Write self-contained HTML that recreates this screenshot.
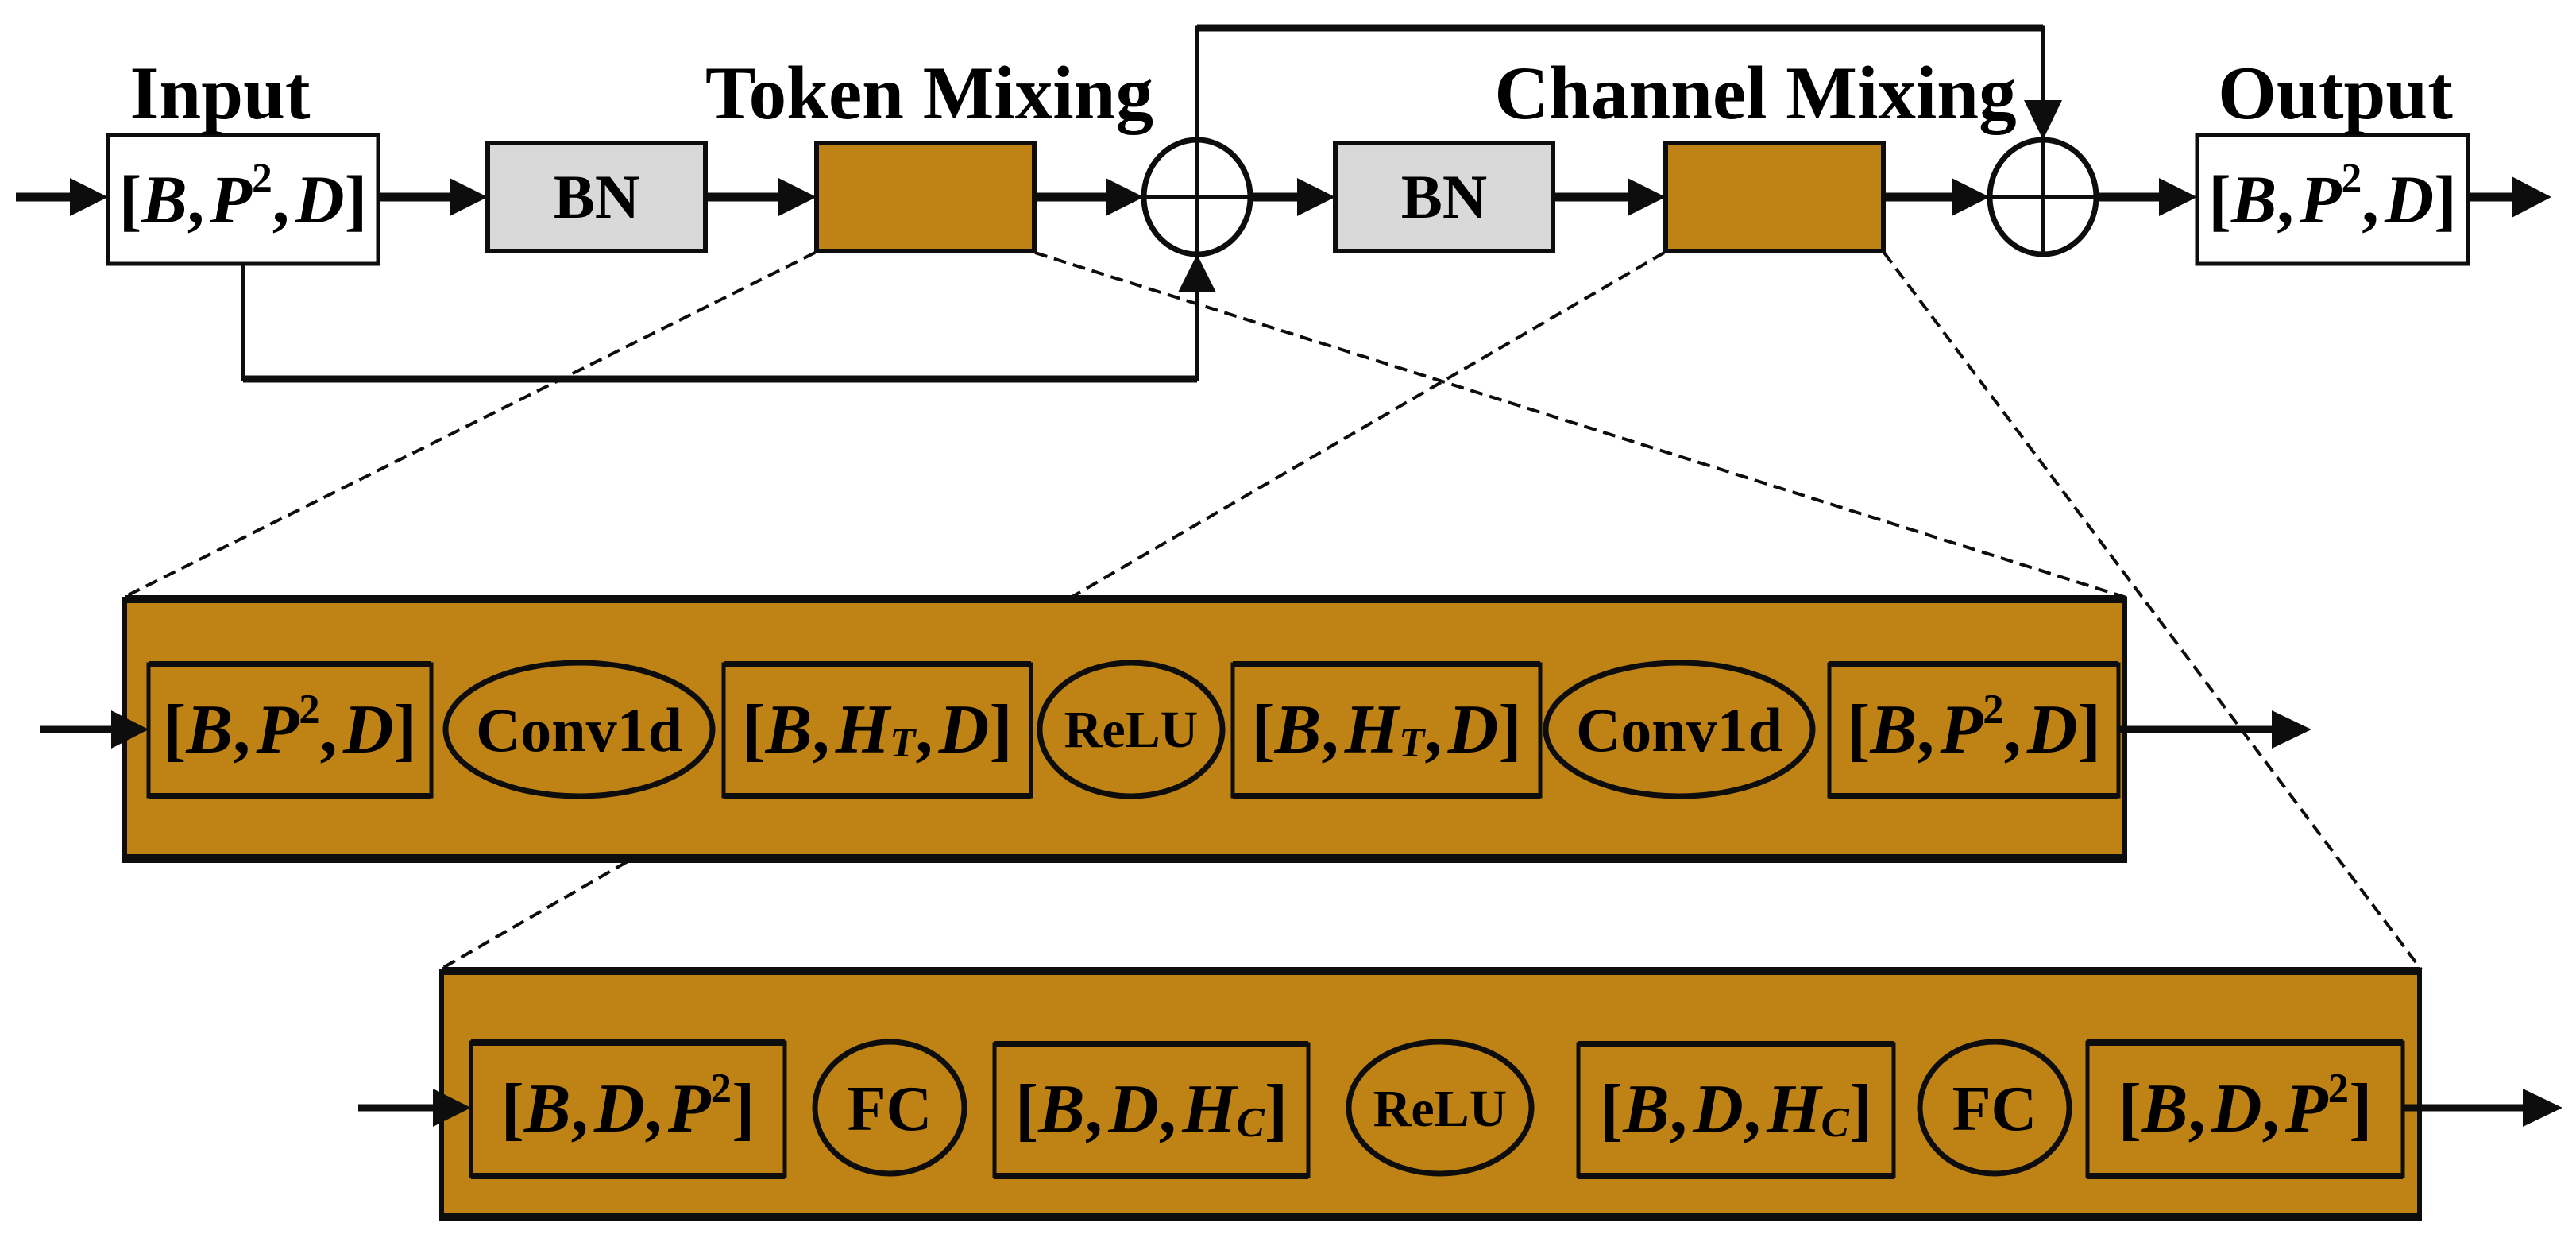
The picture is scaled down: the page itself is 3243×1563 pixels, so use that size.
<!DOCTYPE html>
<html><head><meta charset="utf-8"><style>
html,body{margin:0;padding:0;background:#fff;}
#c{position:relative;width:3243px;height:1563px;overflow:hidden;font-family:"Liberation Serif",serif;font-weight:bold;color:#000;}
svg{position:absolute;left:0;top:0;}
.t{position:absolute;display:flex;align-items:center;justify-content:center;white-space:nowrap;line-height:1;}
.m i{font-style:italic;}
.m sup{font-size:0.6em;position:relative;top:-0.5em;vertical-align:baseline;line-height:0;}
.m sub{font-size:0.6em;font-style:italic;position:relative;top:0.3em;vertical-align:baseline;line-height:0;}
.lbl{font-size:95px;}
</style></head><body><div id="c">
<svg width="3243" height="1563" viewBox="0 0 3243 1563">
<g fill="none" stroke="#0d0d0d">
<g stroke-width="4" stroke-dasharray="16 9">
<line x1="1026" y1="318" x2="155" y2="752"/>
<line x1="1303" y1="318" x2="2677" y2="752"/>
<line x1="2095" y1="318" x2="1348" y2="752"/>
<line x1="2372" y1="318" x2="3048" y2="1220"/>
<line x1="811" y1="1072" x2="554" y2="1220"/>
</g>
<rect x="136" y="170" width="340" height="162" fill="#fff" stroke-width="5"/>
<rect x="2766" y="170" width="341" height="162" fill="#fff" stroke-width="5"/>
<rect x="614" y="180" width="274" height="136" fill="#d9d9d9" stroke-width="6"/>
<rect x="1681" y="180" width="274" height="136" fill="#d9d9d9" stroke-width="6"/>
<rect x="1028" y="180" width="274" height="136" fill="#bf8214" stroke-width="6"/>
<rect x="2097" y="180" width="274" height="136" fill="#bf8214" stroke-width="6"/>
<ellipse cx="1507" cy="248" rx="67" ry="72" stroke-width="7"/>
<line x1="1440" y1="248" x2="1574" y2="248" stroke-width="5"/>
<line x1="1507" y1="176" x2="1507" y2="320" stroke-width="5"/>
<ellipse cx="2572" cy="248" rx="67" ry="72" stroke-width="7"/>
<line x1="2505" y1="248" x2="2639" y2="248" stroke-width="5"/>
<line x1="2572" y1="176" x2="2572" y2="320" stroke-width="5"/>
<g stroke-width="11">
<line x1="20" y1="248" x2="95" y2="248"/>
<line x1="476" y1="248" x2="570" y2="248"/>
<line x1="889" y1="248" x2="985" y2="248"/>
<line x1="1303" y1="248" x2="1395" y2="248"/>
<line x1="1574" y1="248" x2="1640" y2="248"/>
<line x1="1956" y1="248" x2="2055" y2="248"/>
<line x1="2372" y1="248" x2="2460" y2="248"/>
<line x1="2639" y1="248" x2="2720" y2="248"/>
<line x1="3108" y1="248" x2="3170" y2="248"/>
</g>
<polyline points="306,333 306,477 1507,477 1507,365" stroke-width="5"/>
<line x1="306" y1="477" x2="1507" y2="477" stroke-width="9"/>
<polyline points="1507,176 1507,35 2572,35 2572,130" stroke-width="5"/>
<line x1="1507" y1="35" x2="2572" y2="35" stroke-width="9"/>
<rect x="157" y="754" width="2518" height="329" fill="#bf8214" stroke-width="6"/>
<line x1="157" y1="754" x2="2675" y2="754" stroke-width="10"/>
<line x1="157" y1="1080" x2="2675" y2="1080" stroke-width="10"/>
<g stroke-width="5">
<rect x="187" y="836" width="356" height="166"/>
<rect x="911" y="836" width="387" height="166"/>
<rect x="1552" y="836" width="387" height="166"/>
<rect x="2303" y="836" width="364" height="166"/>
<line x1="187" y1="836" x2="543" y2="836" stroke-width="8"/><line x1="187" y1="1002" x2="543" y2="1002" stroke-width="8"/>
<line x1="911" y1="836" x2="1298" y2="836" stroke-width="8"/><line x1="911" y1="1002" x2="1298" y2="1002" stroke-width="8"/>
<line x1="1552" y1="836" x2="1939" y2="836" stroke-width="8"/><line x1="1552" y1="1002" x2="1939" y2="1002" stroke-width="8"/>
<line x1="2303" y1="836" x2="2667" y2="836" stroke-width="8"/><line x1="2303" y1="1002" x2="2667" y2="1002" stroke-width="8"/>
</g>
<g stroke-width="7">
<ellipse cx="729" cy="918" rx="168" ry="84"/>
<ellipse cx="1424" cy="918" rx="115" ry="84"/>
<ellipse cx="2114" cy="918" rx="168" ry="84"/>
</g>
<line x1="50" y1="918" x2="145" y2="918" stroke-width="9"/>
<line x1="2668" y1="918" x2="2865" y2="918" stroke-width="9"/>
<rect x="556" y="1222" width="2490" height="311" fill="#bf8214" stroke-width="6"/>
<line x1="556" y1="1222" x2="3046" y2="1222" stroke-width="10"/>
<line x1="556" y1="1531" x2="3046" y2="1531" stroke-width="8"/>
<g stroke-width="5">
<rect x="593" y="1312" width="395" height="168"/>
<rect x="1252" y="1314" width="395" height="166"/>
<rect x="1987" y="1314" width="397" height="166"/>
<rect x="2628" y="1312" width="397" height="168"/>
<line x1="593" y1="1312" x2="988" y2="1312" stroke-width="8"/><line x1="593" y1="1480" x2="988" y2="1480" stroke-width="8"/>
<line x1="1252" y1="1314" x2="1647" y2="1314" stroke-width="8"/><line x1="1252" y1="1480" x2="1647" y2="1480" stroke-width="8"/>
<line x1="1987" y1="1314" x2="2384" y2="1314" stroke-width="8"/><line x1="1987" y1="1480" x2="2384" y2="1480" stroke-width="8"/>
<line x1="2628" y1="1312" x2="3025" y2="1312" stroke-width="8"/><line x1="2628" y1="1480" x2="3025" y2="1480" stroke-width="8"/>
</g>
<g stroke-width="7">
<ellipse cx="1120" cy="1394" rx="94" ry="83"/>
<ellipse cx="1813" cy="1394" rx="115" ry="83"/>
<ellipse cx="2511" cy="1394" rx="94" ry="83"/>
</g>
<line x1="451" y1="1394" x2="550" y2="1394" stroke-width="9"/>
<line x1="3025" y1="1394" x2="3180" y2="1394" stroke-width="9"/>
</g>
<g fill="#0d0d0d">
<polygon points="88,224 136,248 88,272"/>
<polygon points="566,224 614,248 566,272"/>
<polygon points="980,224 1028,248 980,272"/>
<polygon points="1392,224 1440,248 1392,272"/>
<polygon points="1633,224 1681,248 1633,272"/>
<polygon points="2049,224 2097,248 2049,272"/>
<polygon points="2457,224 2505,248 2457,272"/>
<polygon points="2718,224 2766,248 2718,272"/>
<polygon points="3162,222 3212,248 3162,274"/>
<polygon points="1483,368 1507,320 1531,368"/>
<polygon points="2548,126 2572,176 2596,126"/>
<polygon points="140,894 187,918 140,942"/>
<polygon points="2860,894 2910,918 2860,942"/>
<polygon points="545,1370 593,1394 545,1418"/>
<polygon points="3176,1370 3226,1394 3176,1418"/>
</g>
</svg>
<div class="t lbl" style="left:127px;top:70px;width:300px;height:95px;">Input</div>
<div class="t lbl" style="left:870px;top:70px;width:600px;height:95px;">Token Mixing</div>
<div class="t lbl" style="left:1850px;top:70px;width:720px;height:95px;">Channel Mixing</div>
<div class="t lbl" style="left:2790px;top:70px;width:300px;height:95px;">Output</div>
<div class="t" style="left:614px;top:180px;width:274px;height:136px;font-size:78px;">BN</div>
<div class="t" style="left:1681px;top:180px;width:274px;height:136px;font-size:78px;">BN</div>
<div class="t m" style="left:136px;top:170px;width:340px;height:162px;font-size:86px;">[<i>B</i>,&#8202;<i>P</i><sup>2</sup>,&#8202;<i>D</i>]</div>
<div class="t m" style="left:2766px;top:170px;width:341px;height:162px;font-size:86px;">[<i>B</i>,&#8202;<i>P</i><sup>2</sup>,&#8202;<i>D</i>]</div>
<div class="t m" style="left:187px;top:836px;width:356px;height:166px;font-size:88px;">[<i>B</i>,&#8202;<i>P</i><sup>2</sup>,&#8202;<i>D</i>]</div>
<div class="t" style="left:561px;top:836px;width:336px;height:166px;font-size:78px;">Conv1d</div>
<div class="t m" style="left:911px;top:836px;width:387px;height:166px;font-size:88px;">[<i>B</i>,&#8202;<i>H</i><sub>T</sub>,&#8202;<i>D</i>]</div>
<div class="t" style="left:1309px;top:836px;width:230px;height:166px;font-size:66px;">ReLU</div>
<div class="t m" style="left:1552px;top:836px;width:387px;height:166px;font-size:88px;">[<i>B</i>,&#8202;<i>H</i><sub>T</sub>,&#8202;<i>D</i>]</div>
<div class="t" style="left:1946px;top:836px;width:336px;height:166px;font-size:78px;">Conv1d</div>
<div class="t m" style="left:2303px;top:836px;width:364px;height:166px;font-size:88px;">[<i>B</i>,&#8202;<i>P</i><sup>2</sup>,&#8202;<i>D</i>]</div>
<div class="t m" style="left:593px;top:1312px;width:395px;height:168px;font-size:88px;">[<i>B</i>,&#8202;<i>D</i>,&#8202;<i>P</i><sup>2</sup>]</div>
<div class="t" style="left:1026px;top:1312px;width:188px;height:168px;font-size:80px;">FC</div>
<div class="t m" style="left:1252px;top:1314px;width:395px;height:166px;font-size:88px;">[<i>B</i>,&#8202;<i>D</i>,&#8202;<i>H</i><sub>C</sub>]</div>
<div class="t" style="left:1698px;top:1312px;width:230px;height:168px;font-size:66px;">ReLU</div>
<div class="t m" style="left:1987px;top:1314px;width:397px;height:166px;font-size:88px;">[<i>B</i>,&#8202;<i>D</i>,&#8202;<i>H</i><sub>C</sub>]</div>
<div class="t" style="left:2417px;top:1312px;width:188px;height:168px;font-size:80px;">FC</div>
<div class="t m" style="left:2628px;top:1312px;width:397px;height:168px;font-size:88px;">[<i>B</i>,&#8202;<i>D</i>,&#8202;<i>P</i><sup>2</sup>]</div>
</div></body></html>
